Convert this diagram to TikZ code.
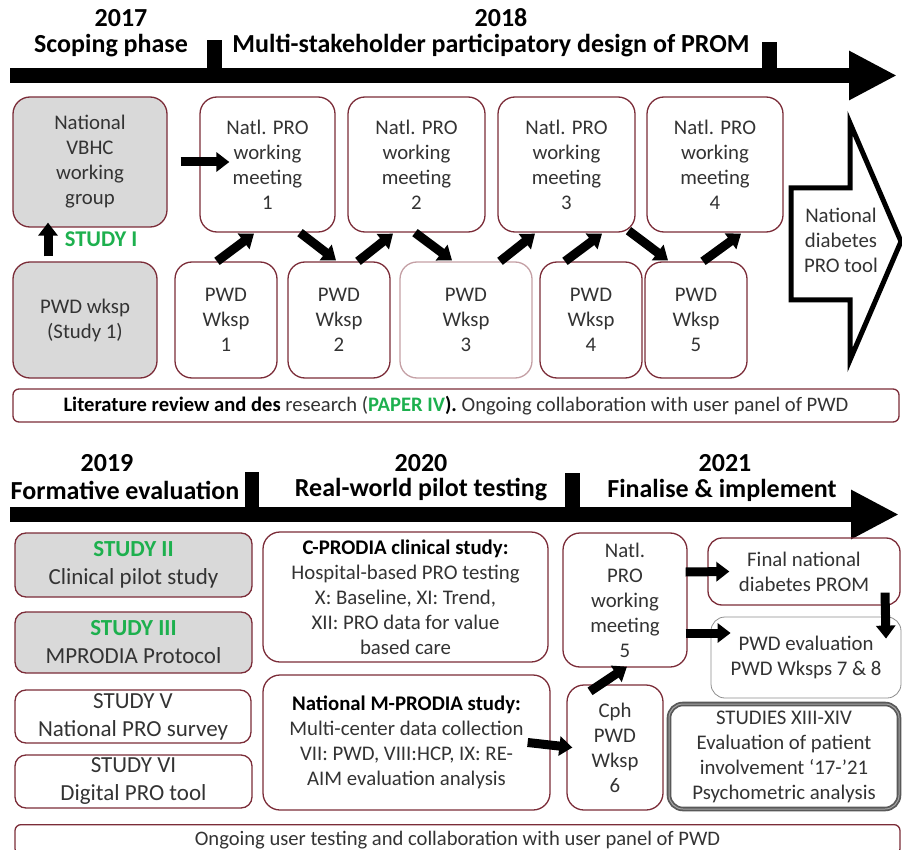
\documentclass[tikz,border=0pt]{standalone}
\usepackage{fontspec}
\setmainfont{Carlito}
\usetikzlibrary{arrows.meta}
\definecolor{maroon}{HTML}{7B2C38}
\definecolor{boxgray}{HTML}{D9D9D9}
\definecolor{studygreen}{HTML}{1DB04E}
\definecolor{txt}{HTML}{333333}
\newcommand{\stdy}[1]{\textcolor{studygreen}{\textbf{#1}}}

\begin{document}
\begin{tikzpicture}[x=1pt,y=-1pt,
    head/.style={font=\fontsize{26}{28}\selectfont\bfseries,inner sep=0pt},
    box/.style={draw=maroon,line width=1.3pt,rounded corners=17pt,align=center,text=txt,inner sep=2pt,font=\fontsize{20.8}{25}\selectfont},
    grey/.style={box,fill=boxgray},
    side/.style={box,rounded corners=11pt,font=\fontsize{23}{28}\selectfont},
    blk/.style={line width=9pt,-{Triangle[length=13pt,width=19pt]}},
    timeline/.style={line width=15pt,-{Triangle[length=48pt,width=46pt]}}]
\useasboundingbox (0,0) rectangle (902,850);

% 2017-2018
\draw[timeline] (10,75.5) -- (897,75.5);
\fill (207,40) rectangle (222,70);
\fill (762,42) rectangle (777,70);
\node[head] (y17) at (121,18) {2017};
\node[head] (p17) at (111,46) {Scoping phase};
\node[head] (y18) at (501,18) {2018};
\node[head] (p18) at (491,46) {Multi-stakeholder participatory design of PROM};

\node[grey,minimum width=154pt,minimum height=130pt] (vbhc) at (90,162) {National\\VBHC\\working\\group};
\node[box,minimum width=135pt,minimum height=135pt] (m1) at (267.5,164.5) {Natl. PRO\\working\\meeting\\1};
\node[box,minimum width=137pt,minimum height=135pt] (m2) at (416.5,164.5) {Natl. PRO\\working\\meeting\\2};
\node[box,minimum width=137pt,minimum height=135pt] (m3) at (566.5,164.5) {Natl. PRO\\working\\meeting\\3};
\node[box,minimum width=136pt,minimum height=135pt] (m4) at (715,164.5) {Natl. PRO\\working\\meeting\\4};

\node[grey,minimum width=144pt,minimum height=116pt] (pwd0) at (85,320) {PWD wksp\\(Study 1)};
\node[box,minimum width=102pt,minimum height=116pt] (w1) at (226,320) {PWD\\Wksp\\1};
\node[box,minimum width=102pt,minimum height=116pt] (w2) at (339,320) {PWD\\Wksp\\2};
\node[box,draw=maroon!45,minimum width=132pt,minimum height=116pt] (w3) at (466,320) {PWD\\Wksp\\3};
\node[box,minimum width=102pt,minimum height=116pt] (w4) at (591,320) {PWD\\Wksp\\4};
\node[box,minimum width=102pt,minimum height=116pt] (w5) at (696,320) {PWD\\Wksp\\5};

\draw[line width=5pt,line join=miter] (791,188) -- (850,188) -- (850,123) -- (901,241.5)
    -- (850,360) -- (850,300) -- (791,300) -- cycle;
\node[align=center,text=txt,font=\fontsize{20.8}{25}\selectfont] (tool) at (841,240) {National\\diabetes\\PRO tool};

\draw[blk] ([xshift=13pt]vbhc.east) -- ([xshift=30pt,yshift=2.5pt]m1.west);
\draw[blk] ([xshift=-37pt,yshift=5pt]pwd0.north) -- node[right,xshift=9pt,text=studygreen,font=\fontsize{22.5}{24}\selectfont\bfseries] (st1) {STUDY I} ([xshift=-42pt,yshift=5pt]vbhc.south);
\draw[blk] ([xshift=-9pt]w1.north) -- ([xshift=-13.5pt,yshift=-1pt]m1.south);
\draw[blk] ([xshift=32.5pt]m1.south) -- ([xshift=-3pt,yshift=1pt]w2.north);
\draw[blk] ([xshift=19pt]w2.north) -- ([xshift=-23.5pt,yshift=-1pt]m2.south);
\draw[blk] ([xshift=-1.5pt]m2.south) -- ([xshift=-14pt,yshift=1pt]w3.north);
\draw[blk] ([xshift=34pt]w3.north) -- ([xshift=-31.5pt,yshift=-1pt]m3.south);
\draw[blk] ([xshift=-26pt]w4.north) -- ([xshift=35.5pt,yshift=-1pt]m3.south);
\draw[blk] ([xshift=62pt,yshift=2pt]m3.south) -- ([xshift=-28pt,yshift=1pt]w5.north);
\draw[blk] ([xshift=7pt]w5.north) -- ([xshift=26pt,yshift=-1pt]m4.south);

\node[box,rounded corners=6pt,minimum width=886pt,minimum height=33pt,font=\fontsize{20.6}{22}\selectfont] (lit) at (456,405.5)
    {\textbf{\textcolor{black}{Literature review and des}} research (\stdy{PAPER IV}\textbf{\textcolor{black}{).}} Ongoing collaboration with user panel of PWD};

% 2019-2021
\draw[timeline] (10,514.5) -- (899,514.5);
\fill (245,472) rectangle (259,507);
\fill (565,473) rectangle (580,507);
\node[head] (y19) at (107,463) {2019};
\node[head] (p19) at (125,490) {Formative evaluation};
\node[head] (y20) at (421,463) {2020};
\node[head] (p20) at (421,490) {Real-world pilot testing};
\node[head] (y21) at (725,463) {2021};
\node[head] (p21) at (722,490) {Finalise \& implement};

\node[side,fill=boxgray,minimum width=237pt,minimum height=64pt] (s2) at (133.5,565) {\stdy{STUDY II}\\Clinical pilot study};
\node[side,fill=boxgray,minimum width=237pt,minimum height=61pt] (s3) at (133.5,642.5) {\stdy{STUDY III}\\MPRODIA Protocol};
\node[side,minimum width=236pt,minimum height=53pt] (s5) at (133,716.5) {STUDY V\\National PRO survey};
\node[side,minimum width=237pt,minimum height=53pt] (s6) at (133.5,781.5) {STUDY VI\\Digital PRO tool};

\node[box,minimum width=285pt,minimum height=130pt] (cpro) at (405.5,597)
    {\textbf{\textcolor{black}{C-PRODIA clinical study:}}\\Hospital-based PRO testing\\X: Baseline, XI: Trend,\\XII: PRO data for value\\based care};
\node[box,minimum width=287pt,minimum height=135pt] (mpro) at (406.5,742.5)
    {\textbf{\textcolor{black}{National M-PRODIA study:}}\\Multi-center data collection\\VII: PWD, VIII:HCP, IX: RE-\\AIM evaluation analysis};
\node[box,minimum width=124pt,minimum height=134pt] (m5) at (625,600) {Natl.\\PRO\\working\\meeting\\5};
\node[box,minimum width=96pt,minimum height=125pt] (w6) at (615,747.5) {Cph\\PWD\\Wksp\\6};
\node[box,rounded corners=14pt,minimum width=192pt,minimum height=67pt] (final) at (804,571.5) {Final national\\diabetes PROM};
\node[box,draw=black!45,line width=0.8pt,rounded corners=14pt,minimum width=190pt,minimum height=81pt] (pwdev) at (806,657.5) {PWD evaluation\\PWD Wksps 7 \& 8};
\node[box,draw=black!65,double=black!35,double distance=1pt,line width=1.8pt,rounded corners=14pt,minimum width=230pt,minimum height=105pt] (xiii) at (784,756.5)
    {STUDIES XIII-XIV\\Evaluation of patient\\involvement ‘17-’21\\Psychometric analysis};

\draw[blk] ([xshift=-23pt]mpro.east) -- ([xshift=6pt]w6.west);
\draw[blk] ([xshift=-25pt,yshift=-7pt]w6.north) -- ([xshift=2pt,yshift=1pt]m5.south);
\draw[blk] ([xshift=-2pt,yshift=28pt]m5.east) -- ([xshift=22pt]final.west);
\draw[blk] ([xshift=-2pt,yshift=-33pt]m5.east) -- ([xshift=20pt,yshift=24.5pt]pwdev.west);
\draw[blk] ([xshift=81pt,yshift=13pt]final.south) -- ([xshift=80pt,yshift=-22pt]pwdev.north);

\node[box,rounded corners=6pt,minimum width=885pt,minimum height=30pt,anchor=north,font=\fontsize{20.6}{22}\selectfont] (ongo) at (457.5,824)
    {Ongoing user testing and collaboration with user panel of PWD};
\end{tikzpicture}
\end{document}
